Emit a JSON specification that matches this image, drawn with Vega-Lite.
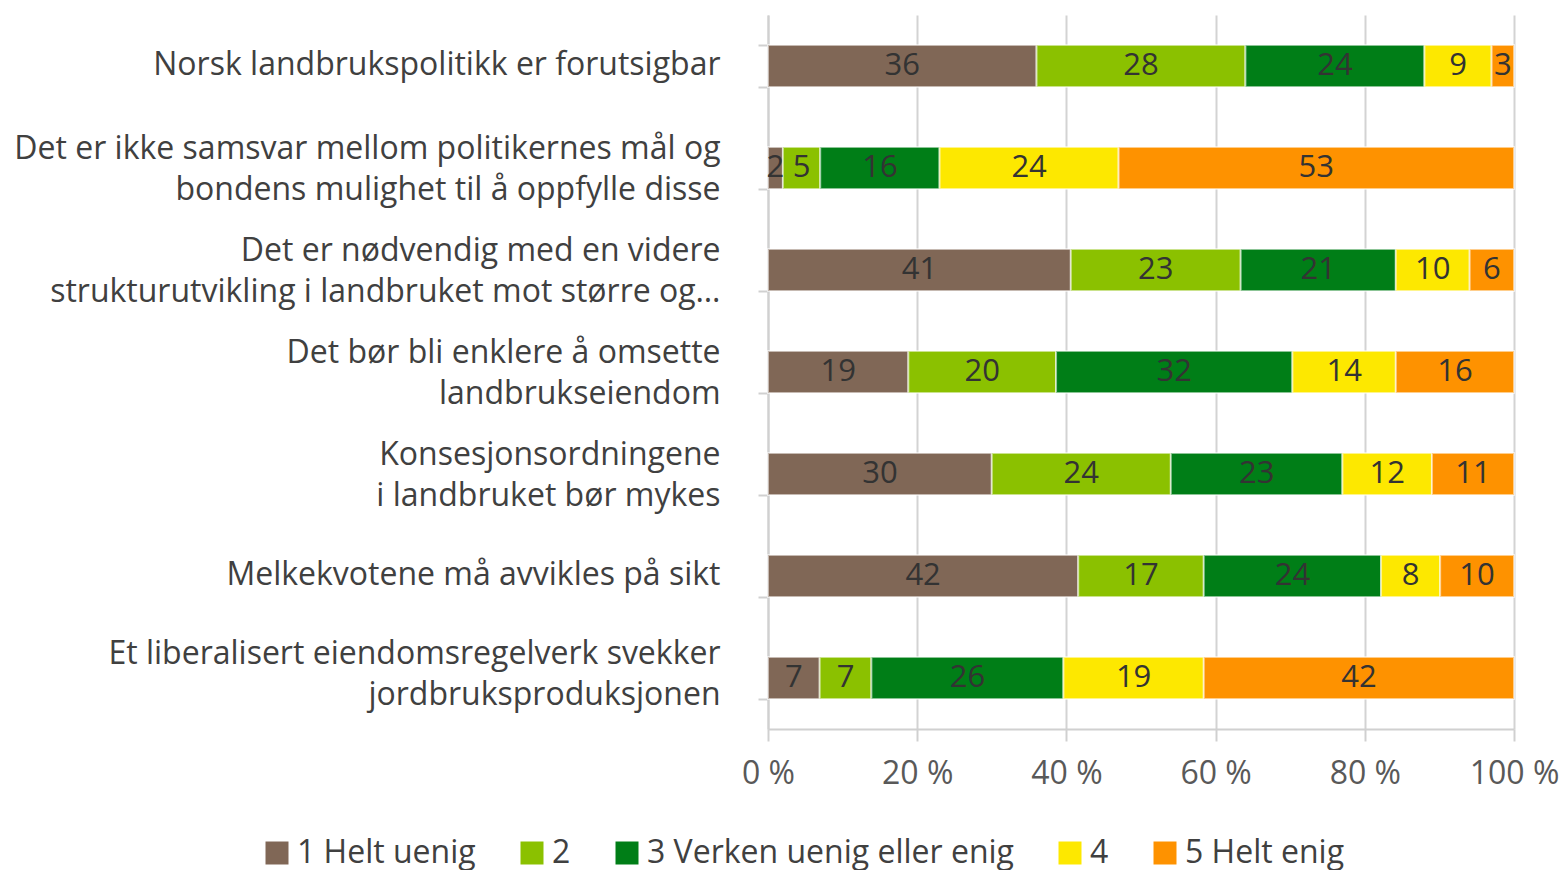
{
  "$schema": "https://vega.github.io/schema/vega-lite/v6.json",
  "width": 746,
  "height": 714,
  "autosize": {"type": "none"},
  "padding": {"left": 768, "top": 15, "right": 49, "bottom": 141},
  "background": "white",
  "config": {"font": "Open Sans", "view": {"stroke": null}},
  "data": {
    "values": [
      {"q": "Norsk landbrukspolitikk er forutsigbar", "k": "1 Helt uenig", "o": 1, "v": 36},
      {"q": "Norsk landbrukspolitikk er forutsigbar", "k": "2", "o": 2, "v": 28},
      {"q": "Norsk landbrukspolitikk er forutsigbar", "k": "3 Verken uenig eller enig", "o": 3, "v": 24},
      {"q": "Norsk landbrukspolitikk er forutsigbar", "k": "4", "o": 4, "v": 9},
      {"q": "Norsk landbrukspolitikk er forutsigbar", "k": "5 Helt enig", "o": 5, "v": 3},
      {"q": "Det er ikke samsvar mellom politikernes mål og|bondens mulighet til å oppfylle disse", "k": "1 Helt uenig", "o": 1, "v": 2},
      {"q": "Det er ikke samsvar mellom politikernes mål og|bondens mulighet til å oppfylle disse", "k": "2", "o": 2, "v": 5},
      {"q": "Det er ikke samsvar mellom politikernes mål og|bondens mulighet til å oppfylle disse", "k": "3 Verken uenig eller enig", "o": 3, "v": 16},
      {"q": "Det er ikke samsvar mellom politikernes mål og|bondens mulighet til å oppfylle disse", "k": "4", "o": 4, "v": 24},
      {"q": "Det er ikke samsvar mellom politikernes mål og|bondens mulighet til å oppfylle disse", "k": "5 Helt enig", "o": 5, "v": 53},
      {"q": "Det er nødvendig med en videre|strukturutvikling i landbruket mot større og…", "k": "1 Helt uenig", "o": 1, "v": 41},
      {"q": "Det er nødvendig med en videre|strukturutvikling i landbruket mot større og…", "k": "2", "o": 2, "v": 23},
      {"q": "Det er nødvendig med en videre|strukturutvikling i landbruket mot større og…", "k": "3 Verken uenig eller enig", "o": 3, "v": 21},
      {"q": "Det er nødvendig med en videre|strukturutvikling i landbruket mot større og…", "k": "4", "o": 4, "v": 10},
      {"q": "Det er nødvendig med en videre|strukturutvikling i landbruket mot større og…", "k": "5 Helt enig", "o": 5, "v": 6},
      {"q": "Det bør bli enklere å omsette|landbrukseiendom", "k": "1 Helt uenig", "o": 1, "v": 19},
      {"q": "Det bør bli enklere å omsette|landbrukseiendom", "k": "2", "o": 2, "v": 20},
      {"q": "Det bør bli enklere å omsette|landbrukseiendom", "k": "3 Verken uenig eller enig", "o": 3, "v": 32},
      {"q": "Det bør bli enklere å omsette|landbrukseiendom", "k": "4", "o": 4, "v": 14},
      {"q": "Det bør bli enklere å omsette|landbrukseiendom", "k": "5 Helt enig", "o": 5, "v": 16},
      {"q": "Konsesjonsordningene\u00a0|i landbruket bør mykes", "k": "1 Helt uenig", "o": 1, "v": 30},
      {"q": "Konsesjonsordningene\u00a0|i landbruket bør mykes", "k": "2", "o": 2, "v": 24},
      {"q": "Konsesjonsordningene\u00a0|i landbruket bør mykes", "k": "3 Verken uenig eller enig", "o": 3, "v": 23},
      {"q": "Konsesjonsordningene\u00a0|i landbruket bør mykes", "k": "4", "o": 4, "v": 12},
      {"q": "Konsesjonsordningene\u00a0|i landbruket bør mykes", "k": "5 Helt enig", "o": 5, "v": 11},
      {"q": "Melkekvotene må avvikles på sikt", "k": "1 Helt uenig", "o": 1, "v": 42},
      {"q": "Melkekvotene må avvikles på sikt", "k": "2", "o": 2, "v": 17},
      {"q": "Melkekvotene må avvikles på sikt", "k": "3 Verken uenig eller enig", "o": 3, "v": 24},
      {"q": "Melkekvotene må avvikles på sikt", "k": "4", "o": 4, "v": 8},
      {"q": "Melkekvotene må avvikles på sikt", "k": "5 Helt enig", "o": 5, "v": 10},
      {"q": "Et liberalisert eiendomsregelverk svekker|jordbruksproduksjonen", "k": "1 Helt uenig", "o": 1, "v": 7},
      {"q": "Et liberalisert eiendomsregelverk svekker|jordbruksproduksjonen", "k": "2", "o": 2, "v": 7},
      {"q": "Et liberalisert eiendomsregelverk svekker|jordbruksproduksjonen", "k": "3 Verken uenig eller enig", "o": 3, "v": 26},
      {"q": "Et liberalisert eiendomsregelverk svekker|jordbruksproduksjonen", "k": "4", "o": 4, "v": 19},
      {"q": "Et liberalisert eiendomsregelverk svekker|jordbruksproduksjonen", "k": "5 Helt enig", "o": 5, "v": 42}
    ]
  },
  "transform": [
    {"stack": "v", "groupby": ["q"], "sort": [{"field": "o", "order": "ascending"}], "offset": "normalize", "as": ["v0", "v1"]},
    {"calculate": "(datum.v0 + datum.v1) / 2", "as": "mid"}
  ],
  "encoding": {
    "y": {
      "field": "q",
      "type": "nominal",
      "sort": null,
      "scale": {"paddingInner": 0.59, "paddingOuter": 0.295},
      "axis": {
        "title": null,
        "labelExpr": "isValid(datum.value) ? split(datum.value, '|') : ''",
        "labelFontSize": 32,
        "labelColor": "#404040",
        "labelLineHeight": 41,
        "labelLimit": 900,
        "labelAlign": "right",
        "labelBaseline": "middle",
        "labelOffset": {"condition": [{"test": "isValid(datum.value) && indexof(datum.value, 'jordbruks') >= 0", "value": -25}, {"test": "isValid(datum.value) && indexof(datum.value, '|') >= 0", "value": -20}], "value": -2},
        "tickSize": 10,
        "labelPadding": 38,
        "tickBand": "extent",
        "tickColor": "#d0d0d0",
        "tickWidth": 2,
        "domainColor": "#d0d0d0",
        "domainWidth": 2
      }
    }
  },
  "layer": [
    {
      "mark": {"type": "bar", "stroke": "white", "strokeWidth": 2, "strokeOpacity": 0.55},
      "encoding": {
        "x": {
          "field": "v0",
          "type": "quantitative",
          "scale": {"domain": [0, 1], "nice": false},
          "axis": {
            "title": null,
            "values": [0, 0.2, 0.4, 0.6, 0.8, 1],
            "labelExpr": "round(datum.value * 100) + ' %'",
            "labelFontSize": 32,
            "labelColor": "#595959",
            "labelFlush": false,
            "labelOverlap": false,
            "grid": true,
            "gridColor": "#d3d3d3",
            "gridWidth": 2,
            "domainColor": "#d0d0d0",
            "domainWidth": 2,
            "tickColor": "#d0d0d0",
            "tickWidth": 2,
            "tickSize": 12,
            "labelPadding": 17
          }
        },
        "x2": {"field": "v1"},
        "color": {
          "field": "k",
          "type": "nominal",
          "scale": {
            "domain": ["1 Helt uenig", "2", "3 Verken uenig eller enig", "4", "5 Helt enig"],
            "range": ["#806756", "#8bc100", "#007e17", "#fde800", "#fe9200"]
          },
          "legend": {
            "title": null,
            "orient": "none",
            "direction": "horizontal",
            "legendX": -507,
            "legendY": 822,
            "columns": 5,
            "columnPadding": 40,
            "labelOffset": 4,
            "symbolType": "square",
            "symbolSize": 529,
            "symbolStrokeWidth": 0,
            "labelFontSize": 32,
            "labelColor": "#404040",
            "labelLimit": 700
          }
        }
      }
    },
    {
      "mark": {"type": "text", "fontSize": 31, "color": "#333333"},
      "encoding": {
        "x": {"field": "mid", "type": "quantitative"},
        "text": {"field": "v"}
      }
    }
  ]
}
